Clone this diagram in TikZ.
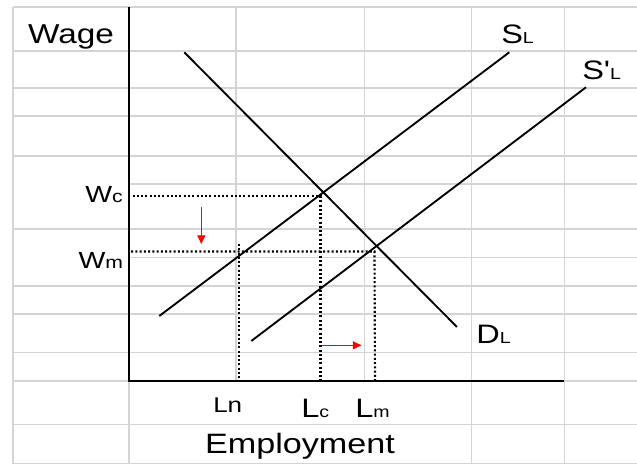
\documentclass[tikz,border=0pt]{standalone}
\usepackage{fontspec}
\setmainfont{Liberation Sans}
\newfontfamily\af[FakeStretch=1.22]{Liberation Sans}
\usetikzlibrary{arrows.meta}
\newcommand\fsz[1]{\fontsize{#1}{#1}\selectfont}
\definecolor{gridgray}{RGB}{212,212,212}
\begin{document}
\begin{tikzpicture}[x=0.75pt,y=-0.75pt,
  gridline/.style={draw=gridgray,line width=1.2pt},
  axisline/.style={draw=black,line width=1.5pt},
  curve/.style={draw=black,line width=1.4pt},
  guide/.style={draw=black,line width=1.6pt,dash pattern=on 1.5pt off 1.7pt},
  shiftarrow/.style={draw=red,line width=0.8pt,-{Triangle[length=6.5pt,width=6pt]}},
  lab/.style={inner sep=0pt,font=\af}]
\useasboundingbox (0,0) rectangle (637,466);
\fill[white] (0,0) rectangle (637,466);
% grid: full-width horizontal lines
\foreach \yy in {7,51.3,88.3,116,156,229.3,286,314.3,352.7,424.5,463.7}
  \draw[gridline] (13,\yy) -- (637,\yy);
% horizontal lines only right of the wage axis
\foreach \yy in {184,257.5}
  \draw[gridline] (129,\yy) -- (637,\yy);
\draw[gridline] (13,381) -- (129,381);
\draw[gridline] (564,381) -- (637,381);
% vertical lines
\draw[gridline] (13,7) -- (13,463.7);
\draw[gridline] (129,381) -- (129,463.7);
\foreach \xx in {236,364.3}
  \draw[gridline] (\xx,7) -- (\xx,381);
\foreach \xx in {471.3,564.3}
  \draw[gridline] (\xx,7) -- (\xx,463.7);
% axes
\coordinate (ytop) at (129.3,7);
\coordinate (origin) at (129.3,381);
\coordinate (xend) at (564,381);
\draw[axisline] (ytop) -- (origin) -- (xend);
% curves
\coordinate (d1) at (184.3,52.3);  \coordinate (d2) at (457,327);
\coordinate (s1) at (159.3,316);   \coordinate (s2) at (509.3,52.3);
\coordinate (t1) at (251.3,341);   \coordinate (t2) at (586,87.3);
\draw[curve] (d1) -- (d2);
\draw[curve] (s1) -- (s2);
\draw[curve] (t1) -- (t2);
% dotted guides
\coordinate (wcL) at (132.5,196.3); \coordinate (wcR) at (320.5,196.3);
\coordinate (lcB) at (320.5,381);
\coordinate (wmL) at (131,251.5);   \coordinate (wmR) at (374.5,251.5);
\coordinate (lmB) at (375,381);
\coordinate (lnT) at (239,244);     \coordinate (lnB) at (239,381);
\draw[guide] (wcL) -- (wcR) -- (lcB);
\draw[guide] (wmL) -- (wmR) -- (lmB);
\draw[guide] (lnT) -- (lnB);
% red shift arrows
\coordinate (a1) at (201.3,206.7); \coordinate (a2) at (201.3,244);
\coordinate (b1) at (322,345.3);   \coordinate (b2) at (361.5,345.3);
\draw[shiftarrow] (a1) -- (a2);
\draw[shiftarrow] (b1) -- (b2);
% labels
\node[lab,anchor=base] (wage) at (71,43.5) {\fsz{20.5}Wage};
\node[lab,anchor=base] (employment) at (300,454) {\fsz{21}Employment};
\node[lab,anchor=base east] (wc) at (123,202.5) {\fsz{17.5}W\fsz{13}c};
\node[lab,anchor=base east] (wm) at (123.3,269) {\fsz{17.5}W\fsz{13}m};
\node[lab,anchor=base west] (sl) at (501,43.3) {\fsz{20}S\fsz{12}L};
\node[lab,anchor=base west] (spl) at (582,80) {\fsz{20}S'\fsz{12}L};
\node[lab,anchor=base west] (dl) at (476,343.3) {\fsz{20}D\fsz{12}L};
\node[lab,anchor=base west] (ln) at (213,413) {\fsz{16}Ln};
\node[lab,anchor=base west] (lc) at (301,417.5) {\fsz{20}L\fsz{12}c};
\node[lab,anchor=base west] (lm) at (355,418) {\fsz{20}L\fsz{12}m};
\end{tikzpicture}
\end{document}
